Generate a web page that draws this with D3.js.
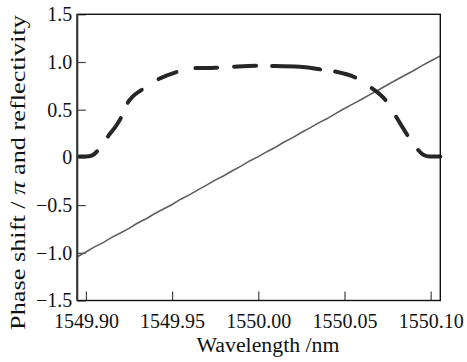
<!DOCTYPE html>
<html>
<head>
<meta charset="utf-8">
<script src="https://cdn.jsdelivr.net/npm/d3@7"></script>
<style>
body { margin: 0; background: #fff; }
svg text { font-family: "Liberation Serif", "Times New Roman", serif; fill: #111; }
</style>
</head>
<body>
<div id="chart"></div>
<script>
// phase shift curve (thin grey line)
var phaseWl = [1549.895,1549.900,1549.905,1549.910,1549.915,1549.920,1549.925,1549.930,1549.935,1549.940,
  1549.945,1549.950,1549.955,1549.960,1549.965,1549.970,1549.975,1549.980,1549.985,1549.990,
  1549.995,1550.000,1550.005,1550.010,1550.015,1550.020,1550.025,1550.030,1550.035,1550.040,
  1550.045,1550.050,1550.055,1550.060,1550.065,1550.070,1550.075,1550.080,1550.085,1550.090,
  1550.095,1550.100,1550.1056];
var phaseShift = [-1.042,-0.992,-0.938,-0.893,-0.838,-0.793,-0.744,-0.688,-0.643,-0.588,
  -0.541,-0.494,-0.438,-0.393,-0.340,-0.291,-0.238,-0.193,-0.140,-0.091,
  -0.037,0.008,0.060,0.107,0.162,0.207,0.261,0.309,0.362,0.407,
  0.461,0.512,0.561,0.609,0.661,0.709,0.761,0.812,0.861,0.909,
  0.962,1.010,1.064];

// reflectivity curve (thick dashed line)
var reflWl = [1549.895,1549.900,1549.9035,1549.9081,1549.912,1549.9207,1549.9236,1549.9332,1549.941,1549.9536,
  1549.9623,1549.975,1549.985,1549.999,1550.0068,1550.024,1550.0358,1550.0445,1550.0571,1550.0648,
  1550.0745,1550.0793,1550.087,1550.0919,1550.096,1550.0995,1550.1056];
var reflectivity = [0.01,0.01,0.02,0.10,0.20,0.43,0.55,0.72,0.81,0.90,
  0.935,0.94,0.95,0.96,0.958,0.95,0.923,0.90,0.83,0.74,
  0.585,0.445,0.22,0.095,0.025,0.01,0.01];

var xTicks = [1549.90, 1549.95, 1550.00, 1550.05, 1550.10];
var xTickLabels = ["1549.90", "1549.95", "1550.00", "1550.05", "1550.10"];
var yTicks = [-1.5, -1.0, -0.5, 0, 0.5, 1.0, 1.5];
var yTickLabels = ["\u22121.5", "\u22121.0", "\u22120.5", "0", "0.5", "1.0", "1.5"];

var w = 467, h = 362;
var margin = {top: 14.3, left: 77.3};
var pw = 363, ph = 286.2;

var svg = d3.select("#chart").append("svg")
  .attr("width", w)
  .attr("height", h);

var x = d3.scaleLinear().domain([1549.895, 1550.1056]).range([0, pw]);
var y = d3.scaleLinear().domain([-1.5, 1.5]).range([ph, 0]);

var g = svg.append("g")
  .attr("transform", "translate(" + margin.left + "," + margin.top + ")");

var xAxis = d3.axisBottom(x)
  .tickValues(xTicks)
  .tickFormat(function(d, i) { return xTickLabels[i]; })
  .tickSizeInner(-9)
  .tickSizeOuter(0)
  .tickPadding(13.5);

var yAxis = d3.axisLeft(y)
  .tickValues(yTicks)
  .tickFormat(function(d, i) { return yTickLabels[i]; })
  .tickSizeInner(-8.5)
  .tickSizeOuter(0)
  .tickPadding(5);

var gx = g.append("g")
  .attr("transform", "translate(0," + ph + ")")
  .call(xAxis);
var gy = g.append("g").call(yAxis);

[gx, gy].forEach(function(a) {
  a.select(".domain").remove();
  a.selectAll("line").attr("stroke", "#444").attr("stroke-width", 1.2);
  a.selectAll("text").style("font-size", "20px").attr("fill", "#111");
});

// lines
var phaseData = phaseWl.map(function(d, i) { return [d, phaseShift[i]]; });
var reflData = reflWl.map(function(d, i) { return [d, reflectivity[i]]; });

var line = d3.line()
  .x(function(d) { return x(d[0]); })
  .y(function(d) { return y(d[1]); });

g.append("path")
  .datum(phaseData)
  .attr("fill", "none")
  .attr("stroke", "#5e5e5e")
  .attr("stroke-width", 1.6)
  .attr("d", line);

var reflPath = g.append("path")
  .datum(reflData)
  .attr("fill", "none")
  .attr("stroke", "#262626")
  .attr("stroke-width", 4)
  .attr("stroke-linecap", "round")
  .attr("d", line.curve(d3.curveMonotoneX));

// gaps in the dashed line, as pixel x ranges inside the plot
var gapX = [[21, 29.4], [44.4, 49.4], [66, 79.4], [101, 116], [141.7, 154.7], [180.7, 192.7],
  [244.7, 255.7], [279.7, 292.7], [309.4, 317.7], [331, 339.4]];
var node = reflPath.node();
var total = node.getTotalLength();
function lenAtX(px) {
  var lo = 0, hi = total;
  for (var k = 0; k < 40; k++) {
    var mid = (lo + hi) / 2;
    if (node.getPointAtLength(mid).x < px) lo = mid; else hi = mid;
  }
  return lo;
}
var cap = 2, pos = 0, dashes = [];
gapX.forEach(function(gp) {
  var a = lenAtX(gp[0]), b = lenAtX(gp[1]);
  dashes.push(a - pos - 2 * cap, b - a + 2 * cap);
  pos = b;
});
dashes.push(total - pos, 200);
reflPath
  .attr("stroke-dasharray", dashes.join(","))
  .attr("stroke-dashoffset", -cap);

// frame
g.append("rect")
  .attr("x", 0).attr("y", 0)
  .attr("width", pw).attr("height", ph)
  .attr("fill", "none")
  .attr("stroke", "#111")
  .attr("stroke-width", 1.4);
g.append("line")
  .attr("x1", 0).attr("x2", 0).attr("y1", 0).attr("y2", ph)
  .attr("stroke", "#333")
  .attr("stroke-width", 2);

// axis titles
svg.append("text")
  .attr("x", 268)
  .attr("y", 352)
  .attr("text-anchor", "middle")
  .attr("textLength", 143)
  .attr("lengthAdjust", "spacingAndGlyphs")
  .style("font-size", "20px")
  .text("Wavelength /nm");

var yt = svg.append("text")
  .attr("transform", "translate(25,172.5) rotate(-90)")
  .attr("text-anchor", "middle")
  .attr("textLength", 315)
  .attr("lengthAdjust", "spacingAndGlyphs")
  .style("font-size", "22px");
yt.append("tspan").text("Phase shift / ");
yt.append("tspan").style("font-style", "italic").text("\u03c0");
yt.append("tspan").text(" and reflectivity");
</script>
</body>
</html>
